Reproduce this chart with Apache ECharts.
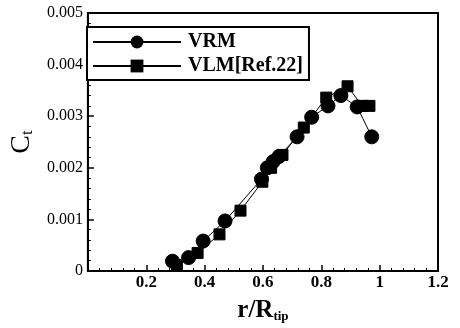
<!DOCTYPE html>
<html>
<head>
<meta charset="utf-8">
<title>Ct vs r/Rtip</title>
<script src="https://cdn.jsdelivr.net/npm/echarts@6/dist/echarts.min.js"></script>
<style>
  html, body { margin: 0; padding: 0; background: #fff; }
  #main { width: 460px; height: 328px; }
</style>
</head>
<body>
<div id="main"></div>
<script>
// VRM (circles)
var vrmR  = [0.29, 0.345, 0.395, 0.47, 0.595, 0.615, 0.635, 0.655, 0.717, 0.767, 0.823, 0.867, 0.923, 0.973];
var vrmCt = [0.00019, 0.00026, 0.00058, 0.00097, 0.00178, 0.0020, 0.00212, 0.00222, 0.0026, 0.00298, 0.0032, 0.0034, 0.00318, 0.0026];
// VLM[Ref.22] (squares)
var vlmR  = [0.305, 0.376, 0.451, 0.523, 0.598, 0.628, 0.667, 0.74, 0.817, 0.89, 0.94, 0.965];
var vlmCt = [0.0001, 0.00035, 0.00071, 0.00117, 0.00173, 0.002, 0.00225, 0.00278, 0.00336, 0.00358, 0.0032, 0.0032];

var xTicks = [0.2, 0.4, 0.6, 0.8, 1, 1.2];
var yTicks = ['0', '0.001', '0.002', '0.003', '0.004', '0.005'];

function pairs(xs, ys) {
  var out = [];
  for (var i = 0; i < xs.length; i++) out.push([xs[i], ys[i]]);
  return out;
}

var serif = 'Liberation Serif';
var chart = echarts.init(document.getElementById('main'), null, { renderer: 'canvas' });

chart.setOption({
  animation: false,
  backgroundColor: '#fff',
  textStyle: { fontFamily: serif, color: '#000' },
  grid: {
    left: 78, right: 22, top: 13, bottom: 51,
    show: true, borderColor: '#000', borderWidth: 2, backgroundColor: 'transparent'
  },
  legend: {
    left: 87, top: 27,
    orient: 'vertical',
    padding: [5, 6, 4, 5],
    itemGap: 4,
    itemWidth: 88, itemHeight: 16,
    borderColor: '#000', borderWidth: 2,
    backgroundColor: '#fff',
    textStyle: { fontFamily: serif, fontSize: 20, fontWeight: 'bold', color: '#000', padding: [0, 0, 0, 2] },
    data: ['VRM', 'VLM[Ref.22]']
  },
  xAxis: {
    type: 'value', min: 0, max: 1.2, interval: 0.2,
    name: '{a|r/R}{s|tip}', nameLocation: 'middle', nameGap: 26,
    nameTextStyle: {
      rich: {
        a: { fontFamily: serif, fontSize: 25, fontWeight: 'bold', color: '#000', verticalAlign: 'bottom', lineHeight: 26 },
        s: { fontFamily: serif, fontSize: 13, fontWeight: 'bold', color: '#000', verticalAlign: 'bottom', lineHeight: 22 }
      }
    },
    axisLine: { lineStyle: { color: '#000', width: 2 } },
    axisTick: { inside: true, length: 6, lineStyle: { color: '#000', width: 1.5 } },
    minorTick: { show: true, splitNumber: 5, length: 3, lineStyle: { color: '#000' } },
    splitLine: { show: false },
    axisLabel: {
      fontFamily: serif, fontSize: 17, fontWeight: 'bold', color: '#000', margin: 3,
      formatter: function (v) { return xTicks.indexOf(+v.toFixed(1)) >= 0 ? String(+v.toFixed(1)) : ''; }
    }
  },
  yAxis: {
    type: 'value', min: 0, max: 0.005, interval: 0.001,
    name: '{a|C}{s|t}', nameLocation: 'middle', nameGap: 50, nameRotate: 90,
    nameTextStyle: {
      rich: {
        a: { fontFamily: serif, fontSize: 28, color: '#000', verticalAlign: 'bottom', lineHeight: 28 },
        s: { fontFamily: serif, fontSize: 17, color: '#000', verticalAlign: 'bottom', lineHeight: 22 }
      }
    },
    axisLine: { lineStyle: { color: '#000', width: 2 } },
    axisTick: { inside: true, length: 6, lineStyle: { color: '#000', width: 1.5 } },
    minorTick: { show: true, splitNumber: 5, length: 3, lineStyle: { color: '#000' } },
    splitLine: { show: false },
    axisLabel: {
      fontFamily: serif, fontSize: 16, color: '#000', margin: 5,
      formatter: function (v) { return yTicks[Math.round(v / 0.001)]; }
    }
  },
  series: [
    {
      name: 'VRM', type: 'line', data: pairs(vrmR, vrmCt),
      symbol: 'circle', symbolSize: 14, showAllSymbol: true,
      lineStyle: { color: '#000', width: 1 },
      itemStyle: { color: '#000', borderColor: '#000' },
      z: 3
    },
    {
      name: 'VLM[Ref.22]', type: 'line', data: pairs(vlmR, vlmCt),
      symbol: 'rect', symbolSize: 11, showAllSymbol: true,
      lineStyle: { color: '#000', width: 1 },
      itemStyle: { color: '#000', borderColor: '#000' },
      z: 2
    }
  ]
});
</script>
</body>
</html>
